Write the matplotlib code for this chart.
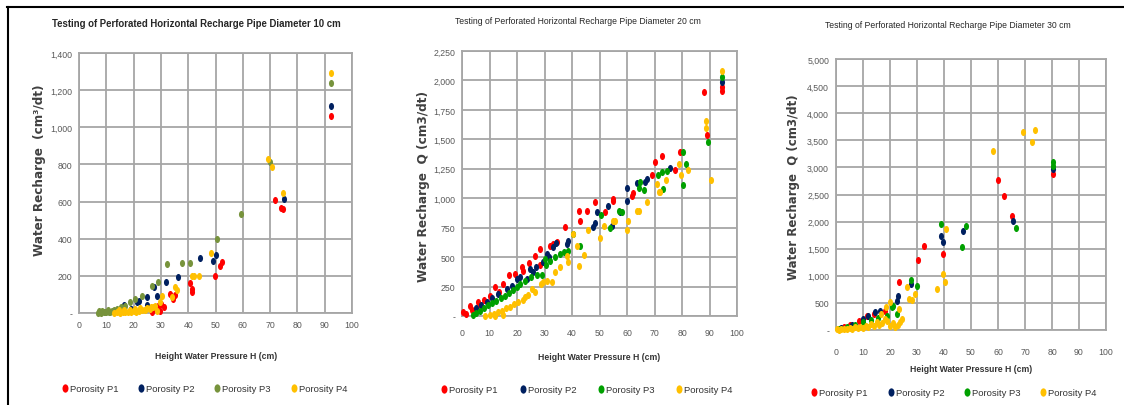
import matplotlib
matplotlib.use('Agg')
import matplotlib.pyplot as plt
from matplotlib.path import Path
from matplotlib.transforms import Affine2D
from matplotlib.ticker import FuncFormatter
from matplotlib.lines import Line2D

# ---- data: (H cm, Q) ----
# pipe diameter 10 cm
h1_10 = [92.2, 71.8, 74.0, 74.8, 52.3, 51.6, 49.8, 40.7, 41.3, 41.3, 33.3, 35.2, 34.5, 30.2, 28.8, 31.0, 27.2, 26.6, 29.5]
q1_10 = [1062, 608, 564, 560, 273, 255, 201, 160, 129, 111, 102, 98, 75, 48, 36, 30, 24, 7, 12]
h2_10 = [92.2, 75.2, 50.2, 49.2, 44.3, 36.4, 31.8, 28.5, 27.5, 25.0, 22.0, 21.4, 16.6, 25.0, 19.0, 14.0]
q2_10 = [1116, 614, 312, 282, 294, 192, 165, 93, 138, 84, 66, 58, 43, 43, 20, 10]
h3_10 = [92.2, 70.0, 59.5, 50.4, 32.3, 37.6, 40.7, 28.8, 26.6, 22.9, 20.5, 18.7, 17.0, 15.5, 14.0, 13.0,
         12.0, 11.0, 10.0, 9.0, 8.0, 7.0, 7.5, 8.5, 9.5, 10.5, 11.5, 12.5]
q3_10 = [1238, 811, 533, 398, 264, 269, 269, 165, 143, 93, 75, 57, 40, 30, 20, 15,
         10, 8, 6, 4, 2, 0, 10, 12, 8, 14, 5, 12]
h4_10 = [92.2, 69.3, 70.6, 74.6, 48.4, 41.3, 42.2, 44.1, 35.2, 35.8, 33.9, 30.3, 29.7, 28.0, 27.0, 26.0,
         25.0, 24.0, 23.0, 22.0, 21.0, 20.0, 19.0, 18.0, 17.0, 16.0, 15.0, 14.0, 13.0, 14.5, 16.5,
         18.5, 20.5, 22.5, 24.5, 26.5, 28.5]
q4_10 = [1292, 829, 784, 646, 323, 201, 201, 198, 138, 125, 87, 93, 58, 40, 30, 22,
         25, 15, 18, 12, 8, 10, 5, 8, 3, 6, 2, 4, 0, 14, 16,
         18, 22, 28, 20, 35, 12]

# pipe diameter 20 cm
h1_20 = [94.4, 94.4, 88.0, 89.2, 79.3, 72.7, 70.2, 77.5, 69.0, 61.7, 62.3, 55.0, 54.8, 48.4, 52.0, 45.3,
         42.7, 42.9, 37.5, 33.2, 32.0, 34.5, 28.4, 26.5, 28.2, 21.7, 22.3, 19.3, 17.2, 15.0, 12.0, 10.2,
         8.0, 5.9, 2.9, 0.5, 1.5, 3.5, 6.5, 13.5, 24.5]
q1_20 = [1941, 1913, 1899, 1537, 1390, 1361, 1305, 1242, 1197, 1021, 1042, 993, 979, 965, 880, 894,
         894, 809, 753, 611, 597, 630, 569, 512, 433, 413, 385, 357, 348, 272, 244, 172,
         140, 116, 87, 31, 20, 50, 95, 205, 450]
h2_20 = [94.4, 75.6, 67.2, 66.5, 63.8, 59.9, 59.9, 53.2, 49.0, 47.5, 48.5, 57.5, 54.5, 38.7, 38.0, 33.2,
         34.0, 30.8, 31.5, 25.9, 24.7, 23.5, 19.9, 21.0, 18.1, 16.3, 13.2, 11.0, 9.0, 7.0, 5.0, 27.0, 29.5]
q2_20 = [1984, 1256, 1160, 1140, 1127, 1084, 979, 936, 880, 753, 790, 880, 760, 639, 611, 583,
         620, 526, 500, 371, 399, 314, 314, 330, 257, 229, 187, 150, 120, 95, 70, 420, 460]
h3_20 = [94.4, 89.6, 80.2, 81.5, 80.5, 74.4, 72.6, 71.4, 66.0, 64.7, 64.3, 73.0, 57.2, 58.0, 53.8, 50.5,
         40.5, 42.9, 35.6, 38.7, 37.0, 33.9, 30.5, 29.0, 27.2, 25.0, 23.0, 21.0, 20.0, 18.5, 17.0, 15.5,
         14.0, 12.5, 11.0, 9.5, 8.0, 6.5, 5.0, 4.0, 30.0, 32.0]
q3_20 = [2026, 1475, 1390, 1290, 1112, 1233, 1225, 1197, 1072, 1140, 1083, 1075, 894, 880, 744, 857,
         696, 597, 526, 554, 540, 500, 433, 348, 348, 330, 300, 270, 250, 220, 195, 170,
         150, 130, 110, 90, 70, 45, 25, 10, 480, 470]
h4_20 = [94.4, 88.7, 88.9, 90.5, 78.9, 82.3, 79.5, 74.2, 70.8, 72.0, 71.7, 67.2, 63.8, 64.2, 59.9, 60.5,
         55.0, 55.8, 51.8, 50.2, 45.9, 44.4, 42.5, 41.7, 40.5, 38.1, 38.7, 35.6, 33.8, 32.6, 31.0, 29.6,
         28.7, 26.5, 25.5, 24.1, 23.0, 22.0, 20.5, 19.0, 17.5, 16.0, 14.4, 13.0, 11.5, 10.0, 8.5, 12.0, 15.0]
q4_20 = [2083, 1658, 1593, 1157, 1290, 1242, 1197, 1157, 1121, 1055, 1050, 970, 894, 894, 733, 809,
         809, 809, 767, 660, 730, 518, 427, 597, 700, 512, 455, 413, 371, 286, 300, 286,
         270, 206, 230, 178, 160, 140, 116, 100, 80, 65, 45, 30, 15, 8, 0, 0, 10]

# pipe diameter 30 cm
h1_30 = [80.2, 60.1, 62.2, 65.1, 39.7, 32.7, 30.3, 23.3, 18.1, 11.4, 8.5, 5.0, 3.0, 14.0, 1.0]
q1_30 = [2878, 2768, 2478, 2097, 1402, 1555, 1297, 880, 357, 264, 172, 90, 50, 300, 20]
h2_30 = [80.2, 65.7, 38.8, 39.5, 47.2, 27.7, 23.1, 22.5, 16.3, 14.4, 12.0, 10.0, 6.0, 2.0]
q2_30 = [2970, 2017, 1740, 1630, 1832, 857, 633, 541, 357, 326, 250, 200, 100, 30]
h3_30 = [80.2, 80.2, 66.5, 38.8, 48.1, 46.8, 27.7, 29.9, 21.2, 20.6, 18.8, 22.5, 15.5, 13.0, 10.0, 7.0, 4.0, 1.0]
q3_30 = [3094, 3030, 1876, 1956, 1913, 1526, 922, 817, 448, 418, 264, 295, 220, 180, 140, 90, 50, 15]
h4_30 = [73.7, 69.4, 72.7, 58.0, 40.7, 39.7, 40.4, 37.3, 26.2, 27.2, 28.2, 29.3, 20.0, 23.5, 24.3, 23.8,
         23.0, 22.0, 21.0, 20.0, 19.0, 18.0, 17.0, 16.0, 15.0, 14.0, 13.0, 12.0, 11.0, 10.0, 9.0, 8.0,
         7.0, 6.0, 5.0, 4.0, 3.0, 2.0, 1.0, 0.5, 18.5, 16.5]
q4_30 = [3690, 3647, 3463, 3308, 1863, 1033, 880, 756, 788, 572, 560, 664, 511, 387, 203, 150,
         100, 60, 130, 80, 160, 200, 120, 90, 150, 70, 110, 50, 80, 40, 60, 30,
         50, 20, 40, 15, 25, 10, 5, 15, 420, 300]

series_names = ['Porosity P1', 'Porosity P2', 'Porosity P3', 'Porosity P4']

plt.rcParams['font.family'] = ['Liberation Sans', 'DejaVu Sans']

# slightly tall dots like the squeezed original
dot = Path.unit_circle().transformed(Affine2D().scale(0.72, 1.0))


def fmt_acc(v, pos):
    if abs(v) < 1e-9:
        return '-'
    return '{:,.0f}'.format(v)


W, H = 1124, 406
fig = plt.figure(figsize=(W / 100, H / 100), dpi=100)
renderer = fig.canvas.get_renderer()


def fit(t, px, vertical=False):
    bb = t.get_window_extent(renderer)
    size = bb.height if vertical else bb.width
    t.set_fontsize(t.get_fontsize() * px / size)


panels = [
    dict(rect=[79 / W, 1 - 314 / H, 273 / W, 260 / H], ymax=1400, ystep=200,
         data=[(h1_10, q1_10), (h2_10, q2_10), (h3_10, q3_10), (h4_10, q4_10)],
         colors=['#FF0000', '#002060', '#77933C', '#FFC000'],
         title='Testing of Perforated Horizontal Recharge Pipe Diameter 10 cm', tw=290, tweight='bold',
         title_xy=(196, 24), ylabel='Water Recharge  (cm\u00b3/dt)', ylab_xy=(40, 170), ylen=172,
         xlab_xy=(216, 357), leg_x=[61, 137, 213, 290], leg_y=390, xpad=5),
    dict(rect=[462 / W, 1 - 317 / H, 275 / W, 265 / H], ymax=2250, ystep=250,
         data=[(h1_20, q1_20), (h2_20, q2_20), (h3_20, q3_20), (h4_20, q4_20)],
         colors=['#FF0000', '#002060', '#00A000', '#FFC000'],
         title='Testing of Perforated Horizontal Recharge Pipe Diameter 20 cm', tw=245, tweight='normal',
         title_xy=(578, 22), ylabel='Water Recharge  Q (cm3/dt)', ylab_xy=(423, 187), ylen=192,
         xlab_xy=(599, 358), leg_x=[440, 519, 597, 675], leg_y=391, xpad=9),
    dict(rect=[836 / W, 1 - 331 / H, 270 / W, 271 / H], ymax=5000, ystep=500,
         data=[(h1_30, q1_30), (h2_30, q2_30), (h3_30, q3_30), (h4_30, q4_30)],
         colors=['#FF0000', '#002060', '#00A000', '#FFC000'],
         title='Testing of Perforated Horizontal Recharge Pipe Diameter 30 cm', tw=245, tweight='normal',
         title_xy=(948, 25), ylabel='Water Recharge  Q (cm3/dt)', ylab_xy=(793, 187), ylen=185,
         xlab_xy=(971, 370), leg_x=[810, 887, 963, 1039], leg_y=394, xpad=12),
]

for p in panels:
    ax = fig.add_axes(p['rect'])
    for (hx, qy), c in zip(p['data'], p['colors']):
        ax.scatter(hx, qy, s=26, marker=dot, color=c, linewidths=0, zorder=3, clip_on=False)
    ax.set_xlim(0, 100)
    ax.set_ylim(0, p['ymax'])
    ax.set_xticks(range(0, 101, 10))
    ax.set_yticks(range(0, p['ymax'] + 1, p['ystep']))
    ax.yaxis.set_major_formatter(FuncFormatter(fmt_acc))
    ax.grid(True, color='#A6A6A6', linewidth=1.3)
    ax.set_axisbelow(True)
    for s in ax.spines.values():
        s.set_color('#A6A6A6')
        s.set_linewidth(1.3)
    ax.tick_params(length=0, labelsize=6.3, colors='#595959')
    ax.tick_params(axis='x', pad=p['xpad'])
    ax.tick_params(axis='y', pad=5)

    t = fig.text(p['title_xy'][0] / W, 1 - p['title_xy'][1] / H, p['title'],
                 ha='center', va='center', fontsize=8, fontweight=p['tweight'], color='#262626')
    fit(t, p['tw'])
    t = fig.text(p['ylab_xy'][0] / W, 1 - p['ylab_xy'][1] / H, p['ylabel'], rotation=90,
                 ha='center', va='center', fontsize=7.8, fontweight='bold', color='#404040',
                 family=['DejaVu Sans'])
    fit(t, p['ylen'], vertical=True)
    t = fig.text(p['xlab_xy'][0] / W, 1 - p['xlab_xy'][1] / H, 'Height Water Pressure H (cm)',
                 ha='center', va='center', fontsize=8, fontweight='bold', color='#333333')
    fit(t, 122)
    for lx, c, name in zip(p['leg_x'], p['colors'], series_names):
        h = Line2D([], [], linestyle='none', marker=dot, markersize=6, color=c, markeredgewidth=0)
        fig.legend([h], [name], loc='center left', bbox_to_anchor=(lx / W, 1 - p['leg_y'] / H),
                   frameon=False, fontsize=6.8, handletextpad=0.15, handlelength=0.8,
                   borderaxespad=0, borderpad=0, labelcolor='#333333')

# outer frame lines of the original figure
fig.add_artist(Line2D([7 / W, 1], [1 - 8 / H, 1 - 8 / H], color='black', linewidth=1.5))
fig.add_artist(Line2D([8 / W, 8 / W], [0, 1 - 8 / H], color='black', linewidth=1.5))

fig.savefig('out.png', dpi=100, facecolor='white')
